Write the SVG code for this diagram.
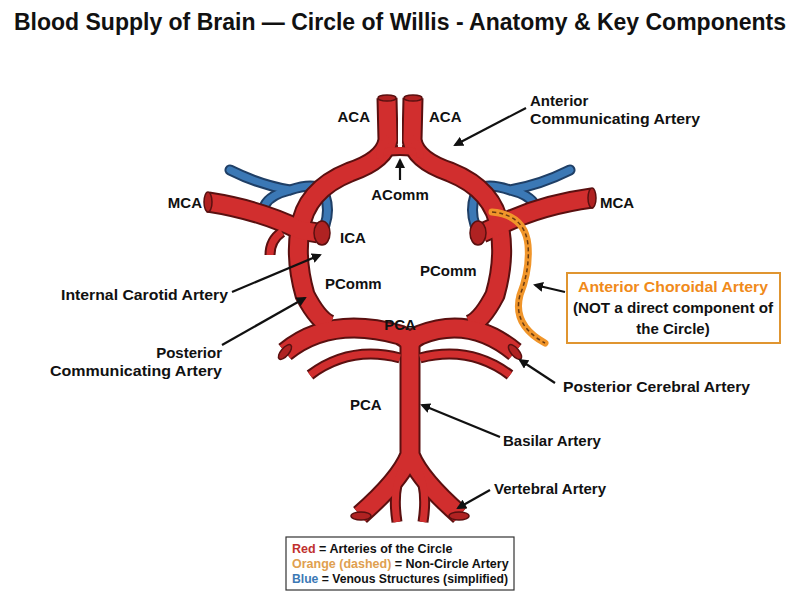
<svg xmlns="http://www.w3.org/2000/svg" width="800" height="600" viewBox="0 0 800 600">
<defs>
<style>
text{font-family:"Liberation Sans",Arial,sans-serif;font-weight:bold;fill:#111}
.t{font-size:23px}
.l{font-size:15px}
.o{stroke:#5a1010;fill:none;stroke-linecap:butt;stroke-linejoin:round}
.r{stroke:#d12e2e;fill:none;stroke-linecap:butt;stroke-linejoin:round}
.bo{stroke:#1f3f66;fill:none;stroke-linecap:round}
.b{stroke:#3b78b5;fill:none;stroke-linecap:round}
.ar{stroke:#111;stroke-width:2.2;fill:none;marker-end:url(#ah)}
.cap{fill:#b02222;stroke:#5a1010;stroke-width:1.5}
</style>
<marker id="ah" markerWidth="10" markerHeight="10" refX="8" refY="5" orient="auto" markerUnits="userSpaceOnUse" viewBox="0 0 10 10"><path d="M0,0 L10,5 L0,10 z" fill="#111"/></marker>
</defs>
<rect width="800" height="600" fill="#fff"/>
<text class="t" x="400" y="30" text-anchor="middle">Blood Supply of Brain — Circle of Willis - Anatomy &amp; Key Components</text>

<g id="veins">
<path class="bo" stroke-width="11" d="M230,170 Q260,185 290,190 Q320,180 325,195 Q330,210 325,225 M290,190 Q270,195 265,205"/>
<path class="b" stroke-width="7" d="M230,170 Q260,185 290,190 Q320,180 325,195 Q330,210 325,225 M290,190 Q270,195 265,205"/>
<path class="bo" stroke-width="11" d="M570,170 Q540,185 510,190 Q480,180 475,195 Q470,210 475,225 M510,190 Q530,195 535,205"/>
<path class="b" stroke-width="7" d="M570,170 Q540,185 510,190 Q480,180 475,195 Q470,210 475,225 M510,190 Q530,195 535,205"/>
</g>

<g id="arteries">
<g class="o" stroke-width="21">
<path d="M387,98 L388,140 Q385,160 350,172 Q305,190 300,230 Q295,260 305,295 Q318,320 330,325"/>
<path d="M413,98 L412,140 Q415,160 450,172 Q495,190 500,230 Q505,260 495,295 Q482,320 470,325"/>
<path d="M208,202 Q260,210 300,230 L318,233"/>
<path d="M592,198 Q540,205 500,225 L482,233"/>
<path d="M285,352 Q330,315 400,335 Q410,340 410,345 Q410,340 420,335 Q470,315 515,352"/>
<path d="M410,340 L410,455 Q400,480 360,515 M410,455 Q420,480 460,515"/>
</g>
<g class="o" stroke-width="11">
<path d="M282,232 Q270,240 270,255"/>
<path d="M310,375 Q350,345 400,358 M510,375 Q470,345 420,358"/>
<path d="M402,470 Q392,490 397,522 M418,470 Q428,490 423,522"/>
<path d="M378,153 Q400,148 422,153"/>
<path d="M389,138 Q378,148 380,158 M411,138 Q422,148 420,158"/>
</g>
<g class="r" stroke-width="17">
<path d="M387,98 L388,140 Q385,160 350,172 Q305,190 300,230 Q295,260 305,295 Q318,320 330,325"/>
<path d="M413,98 L412,140 Q415,160 450,172 Q495,190 500,230 Q505,260 495,295 Q482,320 470,325"/>
<path d="M208,202 Q260,210 300,230 L318,233"/>
<path d="M592,198 Q540,205 500,225 L482,233"/>
<path d="M285,352 Q330,315 400,335 Q410,340 410,345 Q410,340 420,335 Q470,315 515,352"/>
<path d="M410,340 L410,455 Q400,480 360,515 M410,455 Q420,480 460,515"/>
</g>
<g class="r" stroke-width="7">
<path d="M282,232 Q270,240 270,255"/>
<path d="M310,375 Q350,345 400,358 M510,375 Q470,345 420,358"/>
<path d="M402,470 Q392,490 397,522 M418,470 Q428,490 423,522"/>
<path d="M378,153 Q400,148 422,153"/>
<path d="M389,138 Q378,148 380,158 M411,138 Q422,148 420,158"/>
</g>
<rect x="398" y="100" width="4" height="47" fill="#fff"/>
<ellipse class="cap" cx="387" cy="98" rx="9" ry="3"/>
<ellipse class="cap" cx="413" cy="98" rx="9" ry="3"/>
<ellipse class="cap" cx="208" cy="202" rx="4" ry="10"/>
<ellipse class="cap" cx="592" cy="198" rx="4" ry="10"/>
<ellipse class="cap" cx="322" cy="233" rx="8" ry="12"/>
<ellipse class="cap" cx="478" cy="233" rx="8" ry="12"/>
<ellipse class="cap" cx="285" cy="352" rx="4" ry="9" transform="rotate(40 285 352)"/>
<ellipse class="cap" cx="515" cy="352" rx="4" ry="9" transform="rotate(-40 515 352)"/>
<ellipse class="cap" cx="361" cy="516" rx="10" ry="4"/>
<ellipse class="cap" cx="459" cy="516" rx="10" ry="4"/>
</g>

<g id="choroidal">
<path d="M492,212 Q525,215 528,245 Q530,270 520,295 Q512,325 545,343" stroke="#f0952a" stroke-width="7" fill="none" stroke-linecap="round"/>
<path d="M492,212 Q525,215 528,245 Q530,270 520,295 Q512,325 545,343" stroke="#6a3a10" stroke-width="1.5" fill="none" stroke-dasharray="4 3"/>
</g>

<g id="connectors">
<path class="ar" d="M526,108 L455,145"/>
<path class="ar" d="M400,180 L400,160"/>
<path class="ar" d="M232,292 L320,255"/>
<path class="ar" d="M222,345 L305,298"/>
<path class="ar" d="M565,292 L535,285"/>
<path class="ar" d="M555,383 L520,360"/>
<path class="ar" d="M500,437 L422,405"/>
<path class="ar" d="M490,490 L458,508"/>
</g>

<g id="labels">
<text class="l" x="370" y="122" text-anchor="end">ACA</text>
<text class="l" x="429" y="122">ACA</text>
<text class="l" x="530" y="106">Anterior</text>
<text class="l" x="530" y="124" textLength="170" lengthAdjust="spacingAndGlyphs">Communicating Artery</text>
<text class="l" x="400" y="200" text-anchor="middle">AComm</text>
<text class="l" x="202" y="208" text-anchor="end">MCA</text>
<text class="l" x="600" y="208">MCA</text>
<text class="l" x="340" y="243">ICA</text>
<text class="l" x="325" y="289">PComm</text>
<text class="l" x="420" y="276">PComm</text>
<text class="l" x="61" y="300" textLength="167" lengthAdjust="spacingAndGlyphs">Internal Carotid Artery</text>
<text class="l" x="400" y="330" text-anchor="middle">PCA</text>
<text class="l" x="222" y="358" text-anchor="end">Posterior</text>
<text class="l" x="222" y="376" text-anchor="end" textLength="172" lengthAdjust="spacingAndGlyphs">Communicating Artery</text>
<text class="l" x="563" y="392" textLength="187" lengthAdjust="spacingAndGlyphs">Posterior Cerebral Artery</text>
<text class="l" x="350" y="410">PCA</text>
<text class="l" x="503" y="446">Basilar Artery</text>
<text class="l" x="494" y="494">Vertebral Artery</text>
</g>

<g id="choroidal-box">
<rect x="567" y="273" width="213" height="70" fill="#fff" stroke="#e09530" stroke-width="2"/>
<text class="l" x="673" y="292" text-anchor="middle" style="fill:#f08a1a" textLength="190" lengthAdjust="spacingAndGlyphs">Anterior Choroidal Artery</text>
<text class="l" x="673" y="313" text-anchor="middle" textLength="200" lengthAdjust="spacingAndGlyphs">(NOT a direct component of</text>
<text class="l" x="673" y="334" text-anchor="middle">the Circle)</text>
</g>

<g id="legend">
<rect x="286" y="537" width="228" height="53" fill="#fff" stroke="#333" stroke-width="1.2"/>
<text x="292" y="553" font-size="12.5"><tspan style="fill:#c0302e">Red</tspan> = Arteries of the Circle</text>
<text x="292" y="568" font-size="12.5"><tspan style="fill:#e0a050">Orange (dashed)</tspan> = Non-Circle Artery</text>
<text x="292" y="583" font-size="12.5" textLength="216" lengthAdjust="spacingAndGlyphs"><tspan style="fill:#3b78b5">Blue</tspan> = Venous Structures (simplified)</text>
</g>
</svg>
